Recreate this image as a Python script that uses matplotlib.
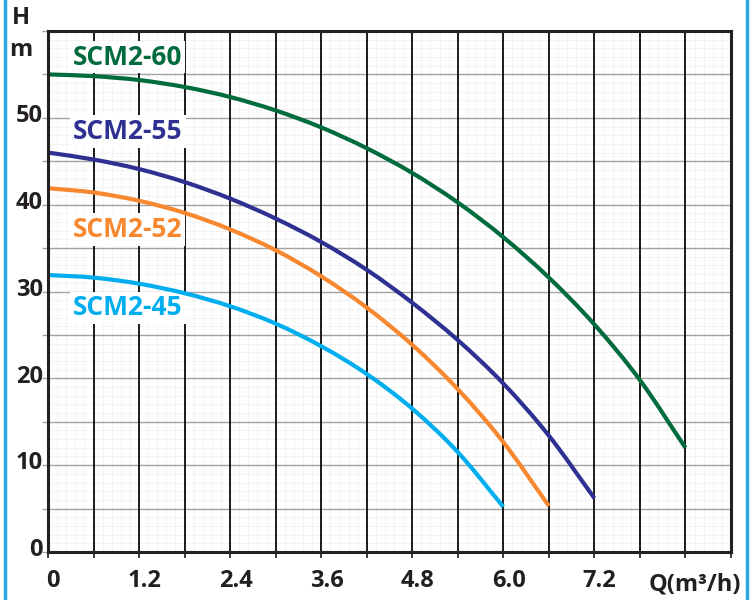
import matplotlib
matplotlib.use("Agg")
import matplotlib.pyplot as plt
from matplotlib.lines import Line2D
from matplotlib.path import Path
from matplotlib.patches import PathPatch
import numpy as np

plt.rcParams['font.family'] = ['Open Sans', 'DejaVu Sans']

# ---- data ----
q_60 = [0, 0.6, 1.2, 1.8, 2.4, 3.0, 3.6, 4.2, 4.8, 5.4, 6.0, 6.6, 7.2, 7.8, 8.4]
h_60 = [55.0, 54.8, 54.35, 53.55, 52.4, 50.85, 48.9, 46.5, 43.65, 40.25, 36.25, 31.6, 26.2, 19.8, 12.0]
q_55 = [0, 0.6, 1.2, 1.8, 2.4, 3.0, 3.6, 4.2, 4.8, 5.4, 6.0, 6.6, 7.2]
h_55 = [46.0, 45.2, 44.1, 42.6, 40.7, 38.4, 35.7, 32.5, 28.7, 24.4, 19.4, 13.4, 6.2]
q_52 = [0, 0.6, 1.2, 1.8, 2.4, 3.0, 3.6, 4.2, 4.8, 5.4, 6.0, 6.6]
h_52 = [41.9, 41.4, 40.45, 39.05, 37.15, 34.75, 31.75, 28.15, 23.85, 18.75, 12.65, 5.3]
q_45 = [0, 0.6, 1.2, 1.8, 2.4, 3.0, 3.6, 4.2, 4.8, 5.4, 6.0]
h_45 = [31.9, 31.6, 30.9, 29.8, 28.3, 26.3, 23.7, 20.5, 16.5, 11.5, 5.2]

series_names = ["SCM2-60", "SCM2-55", "SCM2-52", "SCM2-45"]
series_colors = ["#006B3C", "#2E3192", "#F7882F", "#00AEEF"]
label_y = [57.0, 48.4, 37.1, 28.1]

x_tick_values = [0, 1.2, 2.4, 3.6, 4.8, 6.0, 7.2]
x_tick_labels = ["0", "1.2", "2.4", "3.6", "4.8", "6.0", "7.2"]
y_tick_values = [0, 10, 20, 30, 40, 50]
y_tick_labels = ["0", "10", "20", "30", "40", "50"]


def smooth_path(xs, ys):
    """Catmull-Rom through the points, expressed as cubic Bezier segments."""
    p = np.column_stack([xs, ys]).astype(float)
    n = len(p)
    verts = [p[0]]
    codes = [Path.MOVETO]
    for i in range(n - 1):
        p0 = p[i - 1] if i > 0 else 2 * p[0] - p[1]
        p1 = p[i]
        p2 = p[i + 1]
        p3 = p[i + 2] if i + 2 < n else 2 * p[-1] - p[-2]
        c1 = p1 + (p2 - p0) / 6.0
        c2 = p2 - (p3 - p1) / 6.0
        verts += [c1, c2, p2]
        codes += [Path.CURVE4] * 3
    return Path(np.array(verts), codes)


fig = plt.figure(figsize=(7.51, 6.0), dpi=100)
ax = fig.add_axes([48/751, 48/600, (731-48)/751, (552-31)/600])
ax.set_xlim(0, 9.0)
ax.set_ylim(0, 60)

# minor grid
for xv in np.arange(0, 9.0001, 0.12):
    ax.axvline(xv, color="#efefef", lw=0.5, zorder=0)
for yv in np.arange(0, 60.001, 1):
    ax.axhline(yv, color="#efefef", lw=0.5, zorder=0)
# major horizontal (gray)
for yv in np.arange(5, 60, 5):
    ax.axhline(yv, color="#a3a3a3", lw=1.0, zorder=1)
# major vertical (black)
for xv in np.arange(0.6, 9.0, 0.6):
    ax.axvline(xv, color="#1a1a1a", lw=1.4, zorder=2)

# ticks
ax.set_xticks(np.arange(0, 9.0001, 0.6))
ax.set_yticks(np.arange(0, 60.001, 5))
ax.tick_params(axis='x', length=4, width=1.2, color="#1a1a1a", labelbottom=False)
ax.tick_params(axis='y', length=4, width=1.0, color="#a3a3a3", labelleft=False)

for s in ax.spines.values():
    s.set_linewidth(2.2)
    s.set_color("#231F20")
    s.set_zorder(5)

tick_font = dict(fontsize=17, fontweight='bold', color="#231F20")
for xv, lab in zip(x_tick_values, x_tick_labels):
    ax.text(xv + 0.07, -2.0, lab, ha='center', va='top', **tick_font)
for yv, lab in zip(y_tick_values, y_tick_labels):
    ax.text(-0.065, yv + 0.2, lab, ha='right', va='center', **tick_font)

fig.text(21/751, 1 - 18/600, "H", ha='center', va='center', **tick_font)
fig.text(21/751, 1 - 50/600, "m", ha='center', va='center', **tick_font)
fig.text(741/751, 1 - 585/600, "Q(m³/h)", ha='right', va='center', **tick_font)

curves = [(q_60, h_60), (q_55, h_55), (q_52, h_52), (q_45, h_45)]
for (q, h), c in zip(curves, series_colors):
    ax.add_patch(PathPatch(smooth_path(q, h), facecolor='none', edgecolor=c, lw=3.0,
                           zorder=4, capstyle='butt', joinstyle='round'))

for name, c, ly in zip(series_names, series_colors, label_y):
    ax.text(0.33, ly, name, color=c, fontsize=19, fontweight='bold', ha='left', va='center',
            zorder=3, bbox=dict(facecolor='white', edgecolor='none', pad=2))

# blue border lines
fig.add_artist(Line2D([5/751, 5/751], [0, 1], color="#29ABE2", lw=2.5))
fig.add_artist(Line2D([747/751, 747/751], [0, 1], color="#29ABE2", lw=2.5))

fig.savefig("out.png", dpi=100)
